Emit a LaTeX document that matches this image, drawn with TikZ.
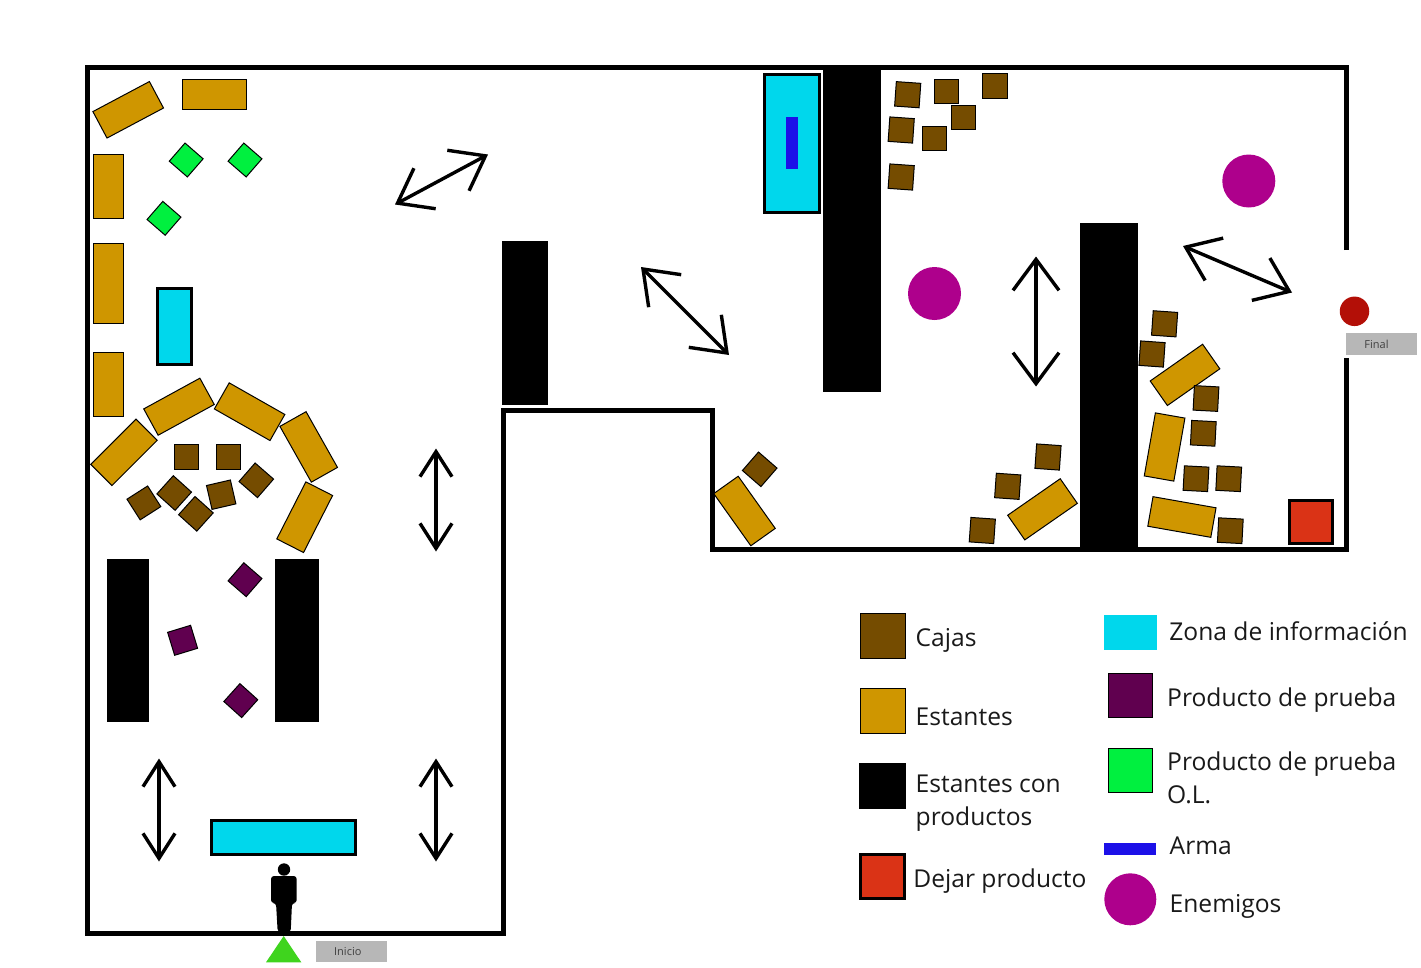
\documentclass[tikz,border=0pt]{standalone}
\usepackage{fontspec}
\setmainfont{Open Sans}
\usetikzlibrary{arrows.meta}
\definecolor{colcaja}{HTML}{754C00}
\definecolor{colestante}{HTML}{CF9600}
\definecolor{colinfo}{HTML}{00D7EC}
\definecolor{colarma}{HTML}{1C10E8}
\definecolor{colenemigo}{HTML}{AE008C}
\definecolor{colprueba}{HTML}{60004F}
\definecolor{colol}{HTML}{00F03F}
\definecolor{coldejar}{HTML}{DA3316}
\definecolor{colfinal}{HTML}{B30F07}
\definecolor{colinicio}{HTML}{3FD41E}
\definecolor{colgris}{HTML}{B7B7B7}
\begin{document}
\begin{tikzpicture} [x=1pt,y=-1pt,
  pieza/.style={draw=black,line width=1pt,inner sep=0pt,outer sep=0pt},
  caja/.style={pieza,fill=colcaja,minimum width=24.5pt,minimum height=24.5pt},
  estante/.style={pieza,fill=colestante,minimum width=64pt,minimum height=30pt},
  prueba/.style={pieza,fill=colprueba,minimum width=24pt,minimum height=24pt},
  pruebaol/.style={pieza,fill=colol,minimum width=24pt,minimum height=24pt},
  repisa/.style={fill=black,inner sep=0pt,outer sep=0pt},
  zonainfo/.style={draw=black,line width=3pt,fill=colinfo,inner sep=0pt,outer sep=0pt},
  enemigo/.style={circle,fill=colenemigo,inner sep=0pt,minimum size=53pt},
  etiqueta/.style={fill=colgris,inner sep=0pt,minimum width=71.5pt,minimum height=21.5pt,text=black!75,font=\fontsize{11}{12}\selectfont},
  leyenda/.style={anchor=base west,inner sep=0pt,text=black!90,font=\fontsize{24.6}{28}\selectfont},
  pared/.style={line width=5pt,miter limit=10},
  flecha/.style={line width=3.4pt,{Straight Barb[length=25pt,width=32pt]}-{Straight Barb[length=25pt,width=32pt]}},
  flechagrande/.style={line width=3.4pt,{Straight Barb[length=31pt,width=46pt]}-{Straight Barb[length=31pt,width=46pt]}}]
\useasboundingbox (0,0) rectangle (1421,967);

\draw[pared] (1346,250) -- (1346,67) -- (87,67) -- (87,933) -- (503,933) -- (503,410) -- (712,410) -- (712,549) -- (1346,549) -- (1346,358);

\draw (127.8,640.5) node (r1) [repisa,minimum width=41.7pt,minimum height=163pt] {};
\draw (297,640.5) node (r2) [repisa,minimum width=44pt,minimum height=163pt] {};
\draw (525,323) node (r3) [repisa,minimum width=46pt,minimum height=164pt] {};
\draw (852,229.5) node (r4) [repisa,minimum width=58pt,minimum height=325pt] {};
\draw (1109,386.5) node (r5) [repisa,minimum width=58pt,minimum height=327pt] {};

\draw (792,143.5) node (z1) [zonainfo,minimum width=55pt,minimum height=138pt] {};
\draw (792,143) node (a1) [fill=colarma,inner sep=0pt,minimum width=12pt,minimum height=52pt] {};
\draw (174.2,326.5) node (z2) [zonainfo,minimum width=34pt,minimum height=76pt] {};
\draw (283.7,837.3) node (z3) [zonainfo,minimum width=143.7pt,minimum height=34pt] {};

\draw (128.2,109.8) node (e1) [estante,rotate=28] {};
\draw (214.5,94.7) node (e2) [estante] {};
\draw (108.7,186.3) node (e3) [estante,rotate=90] {};
\draw (108.7,283) node (e4) [estante,minimum width=80pt,rotate=90] {};
\draw (108.7,384.8) node (e5) [estante,rotate=90] {};
\draw (124,452.3) node (e6) [estante,rotate=45] {};
\draw (179,406.7) node (e7) [estante,rotate=28.7] {};
\draw (249.6,411.7) node (e8) [estante,rotate=-29.6] {};
\draw (308.7,446.9) node (e9) [estante,rotate=-60.6] {};
\draw (304.7,517.2) node (e10) [estante,rotate=63] {};
\draw (1185,374.9) node (e11) [estante,rotate=35] {};
\draw (1164.6,447) node (e12) [estante,rotate=80] {};
\draw (1181.9,517) node (e13) [estante,rotate=-10] {};
\draw (744.5,511) node (e14) [estante,rotate=-54.6] {};
\draw (1042.5,509.3) node (e15) [estante,rotate=34.8] {};

\draw (186.3,457.2) node (c1) [caja] {};
\draw (228.3,457.2) node (c2) [caja] {};
\draw (256.3,480.3) node (c3) [caja,rotate=-41] {};
\draw (221.2,494.7) node (c4) [caja,rotate=13] {};
\draw (174.2,493) node (c5) [caja,rotate=-42] {};
\draw (195.9,513.8) node (c6) [caja,rotate=-42] {};
\draw (143.9,502.9) node (c7) [caja,rotate=32.6] {};
\draw (907.7,94.7) node (c8) [caja,rotate=-4] {};
\draw (946.5,91.3) node (c9) [caja] {};
\draw (995,85.8) node (c10) [caja] {};
\draw (963.7,117.5) node (c11) [caja] {};
\draw (934.5,138.5) node (c12) [caja] {};
\draw (901.2,130) node (c13) [caja,rotate=-4] {};
\draw (901.2,177) node (c14) [caja,rotate=-4] {};
\draw (1164.6,323.8) node (c15) [caja,rotate=-4] {};
\draw (1152,354) node (c16) [caja,rotate=-4] {};
\draw (1206,398.5) node (c17) [caja,rotate=-3] {};
\draw (1203.3,433.3) node (c18) [caja,rotate=-3] {};
\draw (1196,478.7) node (c19) [caja,rotate=-3] {};
\draw (1228.7,478.7) node (c20) [caja,rotate=-3] {};
\draw (1230.3,530.7) node (c21) [caja,rotate=-3] {};
\draw (759.7,469.3) node (c22) [caja,rotate=-41] {};
\draw (1048,457) node (c23) [caja,rotate=-4] {};
\draw (1007.7,486.3) node (c24) [caja,rotate=-4] {};
\draw (982.3,530.5) node (c25) [caja,rotate=-4] {};

\draw (186.2,160) node (g1) [pruebaol,rotate=-41] {};
\draw (245,160) node (g2) [pruebaol,rotate=-41] {};
\draw (164,218.3) node (g3) [pruebaol,rotate=-41] {};

\draw (245,579.7) node (p1) [prueba,rotate=-41] {};
\draw (182.6,640.3) node (p2) [prueba,rotate=17] {};
\draw (240.8,700.6) node (p3) [prueba,rotate=-42] {};

\draw (1248.8,181) node (m1) [enemigo] {};
\draw (934.5,293.5) node (m2) [enemigo] {};

\draw (1311.3,521.8) node (d1) [draw=black,line width=3.3pt,fill=coldejar,inner sep=0pt,minimum width=43pt,minimum height=43pt] {};

\draw (1354.5,311.3) node (f1) [circle,fill=colfinal,inner sep=0pt,minimum size=29.5pt] {};
\draw (1381.5,344) node (f2) [etiqueta] {\hspace*{-10pt}\raisebox{-1pt}{Final}};
\draw (351.3,951.7) node (i1) [etiqueta] {\hspace*{-7pt}\raisebox{-1pt}{Inicio}};

\fill[colinicio] (266,962.3) -- (283.7,936) -- (301.3,962.3) -- cycle;
\fill (284,869.5) circle (6.2);
\fill[rounded corners=3pt] (271,876) -- (296.7,876) -- (296.7,903) -- (292,903) -- (290.7,932) -- (277.7,932) -- (276,903) -- (271,903) -- cycle;

\draw[flechagrande] (395,204.5) -- (488,154.5);
\draw[flechagrande] (641,267) -- (729,355);
\draw[flechagrande] (1036,256.5) -- (1036,386.5);
\draw[flechagrande] (1183,246) -- (1292,292.5);
\draw[flecha] (436,448.5) -- (436,551.5);
\draw[flecha] (436,758.5) -- (436,861.5);
\draw[flecha] (159,758.5) -- (159,861.5);

\draw (882.7,636) node (k1) [caja,minimum width=44.7pt,minimum height=44.7pt] {};
\draw (915.5,646) node (t1) [leyenda] {Cajas};
\draw (882.7,711) node (k2) [estante,minimum width=44.7pt,minimum height=44.7pt] {};
\draw (915.5,725) node (t2) [leyenda] {Estantes};
\draw (882.7,786) node (k3) [repisa,minimum width=46.7pt,minimum height=46.7pt] {};
\draw (915.5,792) node (t3) [leyenda] {Estantes con};
\draw (915.5,825.5) node (t4) [leyenda] {productos};
\draw (882.7,876.3) node (k4) [draw=black,line width=3pt,fill=coldejar,inner sep=0pt,minimum width=43.5pt,minimum height=43.5pt] {};
\draw (913.2,887.7) node (t5) [leyenda] {Dejar producto};

\draw (1130.5,632.5) node (k5) [fill=colinfo,inner sep=0pt,minimum width=52.4pt,minimum height=35pt] {};
\draw (1169.2,640.7) node (t6) [leyenda] {Zona de información};
\draw (1130.6,695.5) node (k6) [prueba,minimum width=44.7pt,minimum height=44.7pt] {};
\draw (1167,706) node (t7) [leyenda] {Producto de prueba};
\draw (1130.6,770.5) node (k7) [pruebaol,minimum width=44.7pt,minimum height=44.7pt] {};
\draw (1167,770.3) node (t8) [leyenda] {Producto de prueba};
\draw (1167,803.3) node (t9) [leyenda] {O.L.};
\draw (1130.2,848.8) node (k8) [fill=colarma,inner sep=0pt,minimum width=51.7pt,minimum height=12.3pt] {};
\draw (1169.5,854.7) node (t10) [leyenda] {Arma};
\draw (1130.3,899.3) node (k9) [enemigo,minimum size=52pt] {};
\draw (1169.5,912) node (t11) [leyenda] {Enemigos};
\end{tikzpicture}
\end{document}
